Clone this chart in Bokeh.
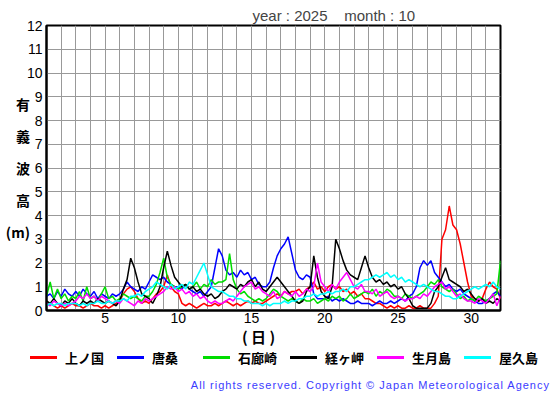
import numpy as np
from bokeh.plotting import figure
from bokeh.layouts import column
from bokeh.models import Range1d, FixedTicker, Div
from bokeh.embed import file_html
from bokeh.resources import INLINE

# ---- data (6-hourly significant wave height, m) ----
names = ["上ノ国", "唐桑", "石廊崎", "経ヶ岬", "生月島", "屋久島"]
colors = ["#ff0000", "#0000ff", "#00dd00", "#000000", "#ff00ff", "#00ffff"]

kaminokuni = [
    0.2,0.3,0.2,0.1, 0.2,0.1,0.2,0.3, 0.2,0.2,0.1,0.2, 0.3,0.2,0.2,0.1,
    0.2,0.1,0.2,0.3, 0.4,0.7,0.9,1.0, 0.8,0.5,0.3,0.4, 0.3,0.5,0.7,0.8,
    1.0,1.5,1.0,0.8, 0.7,0.3,0.2,0.3, 0.2,0.1,0.2,0.3, 0.2,0.2,0.3,0.2,
    0.3,0.4,0.3,0.2, 0.3,0.2,0.3,0.4, 0.3,0.4,0.3,0.3, 0.4,0.5,0.6,0.7,
    0.6,0.8,0.7,0.8, 0.8,0.9,0.7,0.9, 1.0,1.2,0.9,1.0, 0.8,1.0,1.1,0.9,
    1.0,0.8,0.9,0.7, 0.8,0.6,0.7,0.5, 0.5,0.4,0.3,0.3, 0.2,0.1,0.2,0.1,
    0.2,0.1,0.1,0.2, 0.1,0.1,0.2,0.1, 0.1,0.1,0.3,0.6, 3.0,3.4,4.4,3.6,
    3.4,2.8,2.0,1.2, 0.6,0.5,0.4,0.5, 0.9,1.2,1.0,0.9, 0.5]
karakuwa = [
    0.6,0.7,0.5,0.8, 0.6,0.9,0.7,0.6, 0.8,0.6,0.9,0.7, 0.6,0.8,0.5,0.7,
    0.6,0.5,0.7,0.6, 0.7,0.9,1.2,1.0, 0.9,0.8,1.0,0.9, 1.2,1.5,1.4,1.3,
    1.4,1.2,1.1,1.0, 1.0,0.9,1.1,0.9, 0.8,0.7,0.8,0.6, 0.8,1.0,1.8,2.6,
    2.3,1.7,1.5,1.6, 1.4,1.7,1.5,1.6, 1.3,1.4,1.1,1.0, 1.0,1.2,1.8,2.3,
    2.6,2.8,3.1,2.4, 1.7,1.4,1.3,1.5, 1.4,0.7,0.5,0.5, 0.5,0.6,0.4,0.5,
    0.4,0.5,0.4,0.3, 0.3,0.4,0.3,0.3, 0.3,0.2,0.3,0.4, 0.3,0.3,0.4,0.3,
    0.4,0.5,0.4,0.6, 0.7,1.0,1.8,2.1, 1.9,2.1,1.6,1.4, 1.2,1.0,1.1,0.9,
    0.8,0.9,0.7,0.6, 0.5,0.4,0.3,0.3, 0.4,0.5,0.7,0.8, 0.6]
irozaki = [
    0.6,1.2,0.5,0.9, 0.5,0.7,0.4,0.6, 0.5,0.8,0.4,1.0, 0.5,0.6,0.4,0.7,
    1.0,0.5,0.6,0.4, 0.5,0.7,0.6,0.5, 0.6,0.5,0.4,0.6, 0.6,0.8,1.1,1.6,
    2.2,1.4,1.1,1.0, 0.9,1.0,1.1,0.9, 1.0,1.2,0.9,1.1, 1.0,1.3,1.1,1.2,
    1.2,1.3,2.4,1.3, 0.9,0.7,0.8,0.6, 0.5,0.4,0.5,0.4, 0.5,0.7,0.9,0.8,
    0.6,0.5,0.4,0.5, 0.4,0.3,0.5,0.4, 0.4,0.5,0.3,0.4, 0.5,0.4,0.6,0.5,
    0.6,0.4,0.5,0.7, 0.5,0.6,0.7,0.8, 0.7,0.9,0.6,0.8, 0.7,0.9,0.8,0.6,
    0.6,0.5,0.7,0.6, 0.5,0.6,0.7,0.8, 1.0,1.2,1.1,1.3, 1.0,0.9,0.8,0.9,
    0.7,0.5,0.6,0.4, 0.5,0.4,0.6,0.5, 0.4,0.5,0.6,0.7, 2.1]
kyogamisaki = [
    0.4,0.3,0.5,0.3, 0.2,0.4,0.3,0.5, 0.3,0.2,0.4,0.3, 0.4,0.3,0.5,0.4,
    0.3,0.4,0.3,0.2, 0.4,0.9,1.3,2.2, 1.8,1.2,0.7,0.6, 0.5,0.3,0.6,1.0,
    1.8,2.5,1.9,1.4, 1.2,1.0,1.1,0.9, 1.0,0.8,0.9,0.7, 0.6,0.7,0.5,0.6,
    0.8,0.9,1.1,1.0, 0.9,1.1,1.0,1.2, 1.3,1.0,1.2,0.9, 0.8,1.0,1.2,1.4,
    1.2,1.0,0.8,0.6, 0.4,0.3,0.4,0.8, 1.0,2.3,1.4,0.8, 0.6,0.5,1.0,3.0,
    2.6,2.1,1.7,1.5, 1.4,1.3,1.8,2.3, 1.8,1.4,1.2,1.3, 1.1,1.2,1.0,1.1,
    0.9,1.0,0.7,0.5, 0.2,0.1,0.1,0.1, 0.1,0.3,0.8,1.0, 1.4,1.8,1.3,1.2,
    1.1,1.0,0.8,0.9, 0.7,0.5,0.4,0.5, 0.3,0.4,0.3,0.5, 0.4]
ikitsukishima = [
    0.3,0.2,0.4,0.3, 0.2,0.3,0.2,0.3, 0.4,0.6,0.5,0.7, 0.5,0.6,0.4,0.6,
    0.5,0.4,0.3,0.4, 0.3,0.5,0.4,0.3, 0.2,0.4,0.3,0.5, 0.4,0.5,0.6,0.7,
    0.8,1.0,0.9,1.0, 0.8,0.9,0.7,0.8, 0.6,0.7,0.5,0.6, 0.4,0.3,0.4,0.3,
    0.3,0.4,0.5,0.4, 0.6,0.8,1.0,1.1, 1.2,0.9,1.0,0.8, 0.7,0.6,0.8,0.5,
    0.6,0.8,0.7,0.6, 0.8,0.6,0.7,0.9, 0.8,1.0,2.0,1.2, 1.0,0.8,1.1,0.9,
    1.2,1.4,1.6,1.3, 1.0,0.9,1.1,0.8, 0.8,0.7,0.9,0.6, 0.7,0.8,0.6,0.5,
    0.6,0.5,0.4,0.5, 0.5,0.6,0.5,0.7, 0.6,0.8,1.0,1.1, 1.2,0.9,1.0,0.8,
    0.6,0.7,0.5,0.4, 0.4,0.3,0.5,0.4, 0.3,0.5,0.7,0.2, 0.6]
yakushima = [
    0.2,0.3,0.2,0.3, 0.3,0.2,0.3,0.3, 0.3,0.2,0.3,0.2, 0.3,0.3,0.4,0.3,
    0.3,0.4,0.3,0.4, 0.4,0.5,0.4,0.6, 0.6,0.7,0.6,0.8, 0.9,1.0,1.2,1.1,
    1.0,0.9,1.1,0.9, 1.0,1.1,0.9,1.2, 1.1,1.4,1.7,2.0, 1.5,1.0,0.9,0.8,
    0.8,0.7,0.6,0.6, 0.5,0.5,0.4,0.4, 0.3,0.3,0.3,0.2, 0.3,0.2,0.3,0.3,
    0.3,0.4,0.3,0.4, 0.4,0.5,0.5,0.6, 0.6,0.7,0.6,0.7, 0.7,0.8,0.7,0.8,
    0.8,0.9,0.8,1.0, 1.0,1.1,1.2,1.3, 1.3,1.4,1.5,1.4, 1.5,1.6,1.4,1.5,
    1.3,1.4,1.2,1.3, 1.2,1.1,1.0,1.1, 1.0,0.9,0.8,0.8, 0.7,0.6,0.6,0.5,
    0.5,0.6,0.7,0.8, 0.9,1.0,0.9,1.0, 1.1,1.0,1.2,1.0, 0.9]

series = [kaminokuni, karakuwa, irozaki, kyogamisaki, ikitsukishima, yakushima]
days = 1 + np.arange(len(kaminokuni)) * 0.25   # 6-hourly time axis, day of month

y_ticks = list(range(0, 13))
x_ticks = [5, 10, 15, 20, 25, 30]
x_grid = list(range(1, 33))

title_text = "year : 2025\u00a0\u00a0\u00a0 month : 10"
ylabel_text = "有\n義\n波\n高\n(m)"
xlabel_text = "( 日 )\u3000\u3000"
copyright_text = "All rights reserved. Copyright © Japan Meteorological Agency"

FONT = "Liberation Sans"
CJK = "Noto Sans CJK JP"

# ---------------- main chart ----------------
p = figure(width=555, height=349, output_backend="svg", toolbar_location=None,
           x_range=Range1d(1, 32), y_range=Range1d(0, 12),
           min_border_left=46, min_border_right=55, min_border_top=25,
           min_border_bottom=39)
p.title.text = title_text
p.title.text_font = FONT
p.title.text_font_size = "15px"
p.title.text_font_style = "normal"
p.title.align = "left"
p.title.offset = 206
p.title.standoff = 4
p.background_fill_color = "white"
p.border_fill_color = "white"
p.outline_line_color = "black"
p.outline_line_width = 2

p.xaxis.ticker = FixedTicker(ticks=x_ticks)
p.yaxis.ticker = FixedTicker(ticks=y_ticks)
p.xgrid.ticker = FixedTicker(ticks=x_grid)
p.ygrid.ticker = FixedTicker(ticks=y_ticks)
for g in (p.xgrid, p.ygrid):
    g.grid_line_color = "#999999"
    g.grid_line_width = 1
for ax in (p.xaxis, p.yaxis):
    ax.axis_line_color = "black"
    ax.axis_line_width = 2
    ax.major_tick_out = 0
    ax.major_tick_in = 0
    ax.minor_tick_out = 0
    ax.minor_tick_in = 0
    ax.major_label_text_font = FONT
    ax.major_label_text_font_size = "14px"
    ax.major_label_text_color = "black"
    ax.axis_label_text_font = CJK
    ax.axis_label_text_font_style = "bold"
    ax.axis_label_text_color = "black"
p.xaxis.major_label_standoff = 2
p.yaxis.major_label_standoff = 4
p.xaxis.axis_label = xlabel_text
p.xaxis.axis_label_text_font_size = "15px"
p.xaxis.axis_label_standoff = 0
p.yaxis.axis_label = ylabel_text
p.yaxis.axis_label_orientation = "horizontal"
p.yaxis.axis_label_text_font_size = "14px"
p.yaxis.axis_label_text_line_height = 1.6
p.yaxis.axis_label_standoff = -6

for vals, c in zip(series, colors):
    p.line(days, vals, line_color=c, line_width=1.5)

# ---------------- legend + credit strip (HTML) ----------------
parts = ['<div style="position:relative;width:555px;height:46px;margin:0;padding:0;">']
for i, (n, c) in enumerate(zip(names, colors)):
    gx = 30 + round(86.7 * i)
    parts.append(
        f'<span style="position:absolute;left:{gx}px;top:7px;width:27px;height:0;'
        f'border-top:3px solid {c};"></span>')
    parts.append(
        f'<span style="position:absolute;left:{gx + 35}px;top:0px;line-height:17px;'
        f'font-family:\'{CJK}\';font-weight:bold;font-size:13px;color:black;'
        f'white-space:nowrap;">{n}</span>')
parts.append(
    f'<span style="position:absolute;right:5px;top:29px;line-height:14px;'
    f'font-family:\'{FONT}\';font-size:11px;letter-spacing:1px;color:#3b3bff;'
    f'white-space:nowrap;">{copyright_text}</span>')
parts.append('</div>')
strip = Div(text="".join(parts), width=555, height=46, margin=0)

layout = column(p, strip, spacing=0)
open("out.html", "w").write(file_html(layout, INLINE))
